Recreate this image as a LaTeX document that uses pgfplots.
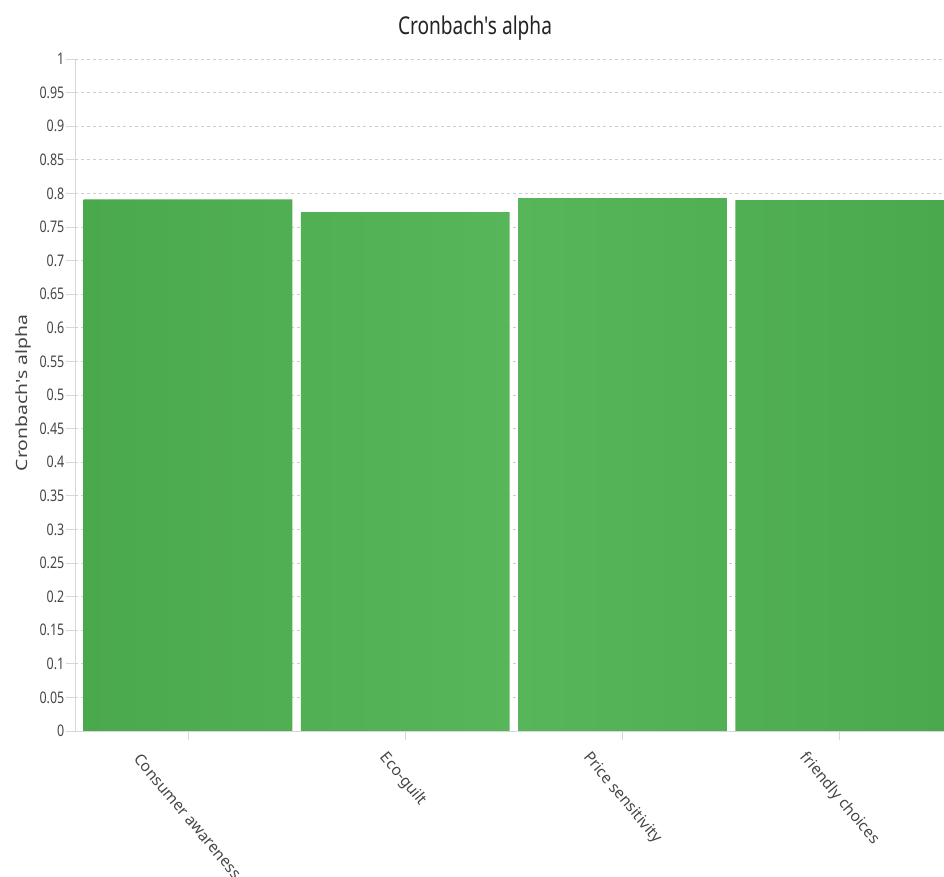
\documentclass[border=0pt]{standalone}
\usepackage{fontspec}
\setmainfont{Noto Sans}[FakeStretch=0.78, Ligatures=TeXOff]
\newfontfamily\xlabfont{Noto Sans}[Ligatures=TeXOff]
\newfontfamily\ylabfont{Noto Sans}[FakeStretch=1.25, Ligatures=TeXOff]
\usepackage{pgfplots}
\pgfplotsset{compat=1.18}
\definecolor{barg}{RGB}{88,182,90}
\definecolor{bargd}{RGB}{74,168,77}
\definecolor{gridc}{RGB}{205,205,205}
\definecolor{axc}{RGB}{215,215,215}
\definecolor{tickc}{RGB}{70,70,70}
\definecolor{titc}{RGB}{35,35,35}
\begin{document}
\begin{tikzpicture}
\begin{axis}[
  scale only axis, width=869pt, height=672pt,
  xmin=-0.52, xmax=3.48, ymin=0, ymax=1,
  axis lines=left, axis line style={-, draw=axc, line width=0.8pt},
  xtick={0,1,2,3}, xticklabels={},
  ytick={0,0.05,0.1,0.15,0.2,0.25,0.3,0.35,0.4,0.45,0.5,0.55,0.6,0.65,0.7,0.75,0.8,0.85,0.9,0.95,1},
  yticklabels={0,0.05,0.1,0.15,0.2,0.25,0.3,0.35,0.4,0.45,0.5,0.55,0.6,0.65,0.7,0.75,0.8,0.85,0.9,0.95,1},
  tick align=outside, major tick length=9pt,
  tick style={draw=axc, line width=0.8pt},
  ymajorgrids, grid style={draw=gridc, dash pattern=on 3pt off 3pt, line width=0.8pt},
  yticklabel style={font=\fontsize{16}{16}\selectfont, text=tickc, inner xsep=1.5pt},
  ybar, bar width=0.96,
  clip=false,
]
\addplot[draw=none, left color=bargd, right color=bargd, middle color=barg]
  coordinates {(0,0.791) (1,0.772) (2,0.793) (3,0.790)};
\end{axis}
\node[anchor=base, font=\fontsize{24.5}{24.5}\selectfont, text=titc]
  at ([shift={(400pt,24pt)}]current axis.north west) {Cronbach's alpha};
\node[rotate=90, anchor=center, font=\ylabfont\fontsize{15.5}{15.5}\selectfont, text=tickc]
  at ([shift={(-52pt,-334pt)}]current axis.north west) {Cronbach's alpha};
\begin{scope}[every node/.style={rotate=-50, anchor=north west, inner sep=0pt,
    font=\xlabfont\fontsize{15.5}{15.5}\selectfont, text=tickc}]
\node at ([shift={(67pt,-21pt)}]current axis.south west) {Consumer awareness};
\node at ([shift={(314pt,-19pt)}]current axis.south west) {Eco-guilt};
\node at ([shift={(517pt,-19pt)}]current axis.south west) {Price sensitivity};
\node at ([shift={(734pt,-19pt)}]current axis.south west) {friendly choices};
\end{scope}
\pgfresetboundingbox
\path (current axis.south west) ++(-75pt,-146pt) rectangle ++(944pt,877pt);
\end{tikzpicture}
\end{document}
